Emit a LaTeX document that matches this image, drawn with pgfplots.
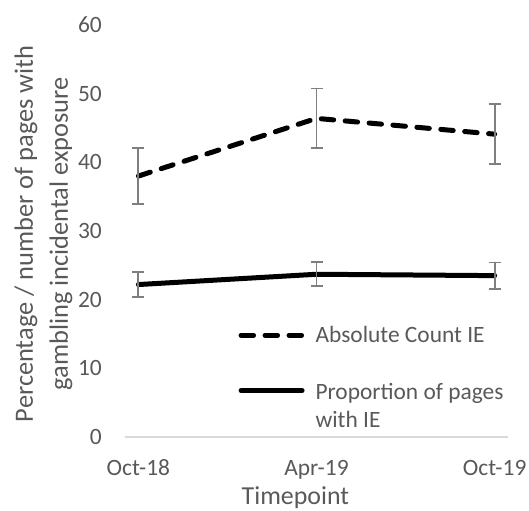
\documentclass[border=0pt]{standalone}
\usepackage{pgfplots}
\pgfplotsset{compat=1.18}
\usepackage{fontspec}
\setmainfont{Carlito}
\definecolor{txt}{HTML}{595959}
\definecolor{axl}{HTML}{D9D9D9}
\definecolor{errc}{HTML}{7F7F7F}
\pgfplotstableread{
x y e
0 38.0 4.05
1 46.4 4.35
2 44.1 4.40
}\abscount
\pgfplotstableread{
x y e
0 22.2 1.85
1 23.7 1.75
2 23.5 1.90
}\propie
\begin{document}
\begin{tikzpicture}[x=1bp,y=1bp]
\useasboundingbox (-125,-74) rectangle (404,437);
\begin{axis}[
  at={(0,0)}, anchor=south west,
  scale only axis, width=383bp, height=412bp,
  xmin=-0.075, xmax=2.075, ymin=0, ymax=60,
  axis x line*=bottom, axis y line*=left,
  x axis line style={draw=axl, line width=1.3bp, -},
  y axis line style={draw=none},
  xtick={0,1,2}, xticklabels={Oct-18,Apr-19,Oct-19},
  ytick={0,10,...,60},
  /pgf/number format/assume math mode=true,
  major tick length=0pt,
  ytick style={draw=none},
  xtick style={draw=none},
  extra x ticks={-0.075,0.925,1.925}, extra x tick labels={},
  extra x tick style={major tick length=8bp, tick align=outside, tick style={draw=axl, line width=1.3bp}},
  tick label style={font=\fontsize{23.5}{28}\selectfont, text=txt},
  yticklabel style={anchor=east, inner sep=0pt, xshift=-23bp},
  xticklabel style={anchor=base, inner sep=0pt, yshift=-38.7bp},
  xlabel={Timepoint},
  xlabel style={font=\fontsize{26}{31}\selectfont, text=txt, at={(axis description cs:0.445,0)}, anchor=base, inner sep=0pt, yshift=-67.5bp},
  ylabel={Percentage / number of pages with\\gambling incidental exposure},
  ylabel style={font=\fontsize{26.5}{35}\selectfont, text=txt, align=center, at={(axis description cs:-0.2128,0.493)}, anchor=center},
  legend style={draw=none, fill=none, inner sep=0pt, nodes={inner sep=0pt, text=txt}, font=\fontsize{23.5}{28}\selectfont, at={(axis description cs:0.296,0.269)}, anchor=north west, column sep=11bp, row sep=36bp},
  legend cell align=left,
  legend image code/.code={\draw[#1] (0bp,0bp) -- (61bp,0bp);},
  error bars/error bar style={line width=1.8bp, draw=errc, solid},
  error bars/error mark options={rotate=90, mark size=6bp, line width=1.8bp, draw=errc, solid},
]
\addplot[black, line width=5bp, dash pattern=on 12.5bp off 11.5bp, line cap=round, no markers,
  error bars/.cd, y dir=both, y explicit] table[x=x, y=y, y error=e] {\abscount};
\addlegendentry{Absolute Count IE}
\addplot[black, line width=5bp, line cap=round, no markers,
  error bars/.cd, y dir=both, y explicit] table[x=x, y=y, y error=e] {\propie};
\addlegendentry{\begin{tabular}[t]{@{}l@{}}Proportion of pages\\with IE\end{tabular}}
\end{axis}
\end{tikzpicture}
\end{document}
